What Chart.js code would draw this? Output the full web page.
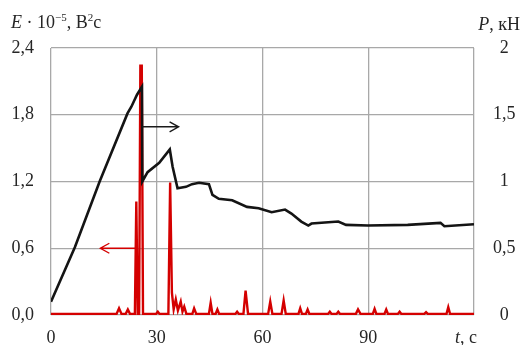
<!DOCTYPE html>
<html>
<head>
<meta charset="utf-8">
<script src="https://cdn.jsdelivr.net/npm/chart.js@4.4.1/dist/chart.umd.min.js"></script>
<style>
  html, body { margin: 0; padding: 0; background: #fff; }
</style>
</head>
<body>
<canvas id="chart" width="522" height="345"></canvas>
<script>
// ====================================== DATA ====================================== //

// load P, kN (right axis)
const tLoad = [0, 6.8, 13.8, 21.7, 22.8, 24.4, 25.8, 25.9, 27.4, 30.7,
               33.7, 34.5, 35.9, 38.3, 40.0, 42.0, 44.8, 45.8, 47.6, 51.4,
               55.6, 58.9, 62.6, 66.4, 68.2, 71.0, 73.0, 73.9, 81.5, 83.7,
               89.9, 101.2, 110.5, 111.6, 120];
const pLoad = [0.10, 0.51, 1.00, 1.51, 1.56, 1.65, 1.71, 1.00, 1.07, 1.14,
               1.24, 1.11, 0.95, 0.96, 0.98, 0.99, 0.98, 0.90, 0.87, 0.86,
               0.81, 0.80, 0.77, 0.79, 0.76, 0.70, 0.67, 0.685, 0.70, 0.675,
               0.67, 0.675, 0.69, 0.665, 0.68];

// energy E * 10^-5, V^2 s (left axis)
const tEnergy = [0, 18.6, 19.3, 20.0, 21.2, 21.8, 22.4, 23.8, 24.2, 24.6,
                 25.0, 25.35, 25.75, 26.1, 29.8, 30.3, 30.8, 33.3, 33.8,
                 34.3, 34.8, 35.4, 36.0, 36.8, 37.3, 37.8, 38.4, 40.1, 40.6,
                 41.2, 44.8, 45.3, 45.8, 46.7, 47.2, 47.7, 52.3, 52.8, 53.3,
                 54.6, 55.2, 55.9, 61.6, 62.2, 62.8, 65.4, 66.0, 66.6, 70.2,
                 70.7, 71.2, 72.3, 72.8, 73.3, 78.6, 79.1, 79.6, 81.0, 81.5,
                 82.0, 86.5, 87.1, 87.8, 91.3, 91.8, 92.3, 94.6, 95.1, 95.6,
                 98.4, 98.9, 99.4, 105.9, 106.4, 106.9, 112.2, 112.7, 113.2, 120];
const eEnergy = [0.01, 0.01, 0.06, 0.01, 0.01, 0.05, 0.01, 0.01, 1.02, 0.01,
                 0.01, 2.24, 2.24, 0.01, 0.01, 0.03, 0.01, 0.01, 1.19,
                 0.20, 0.05, 0.14, 0.04, 0.12, 0.03, 0.075, 0.01, 0.01, 0.06,
                 0.01, 0.01, 0.11, 0.01, 0.01, 0.05, 0.01, 0.01, 0.03, 0.01,
                 0.01, 0.22, 0.01, 0.01, 0.12, 0.01, 0.01, 0.13, 0.01, 0.01,
                 0.06, 0.01, 0.01, 0.05, 0.01, 0.01, 0.03, 0.01, 0.01, 0.03,
                 0.01, 0.01, 0.05, 0.01, 0.01, 0.055, 0.01, 0.01, 0.05, 0.01,
                 0.01, 0.03, 0.01, 0.01, 0.025, 0.01, 0.01, 0.07, 0.01, 0.01];

const tTicks = [0, 30, 60, 90, 120];
const eTicks = [0, 0.6, 1.2, 1.8, 2.4];
const pTicks = [0, 0.5, 1, 1.5, 2];

// arrows pointing at the axis each curve belongs to (data units)
const arrows = [
  {axis: 'yP', y: 1.41, from: 25.9, to: 36.2, color: '#1a1a1a'},
  {axis: 'yE', y: 0.60, from: 24.2, to: 14.0, color: '#d40000'}
];

// ====================================== STYLE ====================================== //

const FONT = "'Liberation Serif', 'Times New Roman', serif";
const gridCol = '#a8a8a8', txtCol = '#262626', red = '#d40000', black = '#141414';

const comma = v => String(v).replace('.', ',');

// axis titles with italic letters and superscripts
const titles = [
  {x: 11, y: 28, align: 'left',  parts: [['E', 'i'], [' · 10'], ['−5', 's'], [', В'], ['2', 's'], ['с']]},
  {x: 520, y: 30, align: 'right', parts: [['P', 'i'], [', кН']]},
  {x: 455, y: 343, align: 'left', parts: [['t', 'i'], [', с']]}
];

function partFont(p) {
  if (p[1] === 'i') return 'italic 18px ' + FONT;
  if (p[1] === 's') return '11px ' + FONT;
  return '18px ' + FONT;
}

const decor = {
  id: 'decor',
  afterDatasetsDraw(chart) {
    const ctx = chart.ctx, xs = chart.scales.x;
    ctx.save();
    // arrows
    arrows.forEach(a => {
      const ys = chart.scales[a.axis];
      const x0 = xs.getPixelForValue(a.from), x1 = xs.getPixelForValue(a.to), y = ys.getPixelForValue(a.y);
      const dir = Math.sign(x1 - x0);
      ctx.strokeStyle = a.color;
      ctx.lineWidth = 1.4;
      ctx.beginPath();
      ctx.moveTo(x0, y); ctx.lineTo(x1, y);
      ctx.moveTo(x1 - dir * 9, y - 5); ctx.lineTo(x1, y); ctx.lineTo(x1 - dir * 9, y + 5);
      ctx.stroke();
    });
    // titles
    ctx.fillStyle = txtCol;
    ctx.textBaseline = 'alphabetic';
    ctx.textAlign = 'left';
    titles.forEach(t => {
      let w = 0;
      t.parts.forEach(p => { ctx.font = partFont(p); w += ctx.measureText(p[0]).width; });
      let x = t.align === 'right' ? t.x - w : t.x;
      t.parts.forEach(p => {
        ctx.font = partFont(p);
        ctx.fillText(p[0], x, p[1] === 's' ? t.y - 7 : t.y);
        x += ctx.measureText(p[0]).width;
      });
    });
    ctx.restore();
  }
};

// ====================================== CHART ====================================== //

new Chart(document.getElementById('chart'), {
  type: 'line',
  data: {
    datasets: [
      {
        data: tLoad.map((t, i) => ({x: t, y: pLoad[i]})),
        yAxisID: 'yP', borderColor: black, borderWidth: 2.6, pointRadius: 0, tension: 0
      },
      {
        data: tEnergy.map((t, i) => ({x: t, y: eEnergy[i]})),
        yAxisID: 'yE', borderColor: red, borderWidth: 2.4, pointRadius: 0, tension: 0
      }
    ]
  },
  options: {
    responsive: false,
    animation: false,
    devicePixelRatio: 1,
    layout: {padding: {top: 48, right: 0, bottom: 0, left: 0}},
    plugins: {legend: {display: false}, tooltip: {enabled: false}},
    scales: {
      x: {
        type: 'linear', min: 0, max: 120,
        afterBuildTicks: s => { s.ticks = tTicks.map(v => ({value: v})); },
        afterFit: s => { s.height = 30; },
        grid: {color: gridCol, lineWidth: 1.3, drawTicks: false},
        border: {display: false},
        ticks: {
          padding: 12, color: txtCol, font: {family: FONT, size: 18},
          callback: v => v === 120 ? '' : v
        }
      },
      yE: {
        position: 'left', min: 0, max: 2.4,
        afterBuildTicks: s => { s.ticks = eTicks.map(v => ({value: v})); },
        afterFit: s => { s.width = 51; },
        grid: {color: gridCol, lineWidth: 1.3, drawTicks: false},
        border: {display: false},
        ticks: {
          padding: 17, color: txtCol, font: {family: FONT, size: 18},
          callback: v => v.toFixed(1).replace('.', ',')
        }
      },
      yP: {
        position: 'right', min: 0, max: 2,
        afterBuildTicks: s => { s.ticks = pTicks.map(v => ({value: v})); },
        afterFit: s => { s.width = 48; },
        grid: {display: false, drawTicks: false},
        border: {display: false},
        ticks: {
          padding: 19, crossAlign: 'center', color: txtCol, font: {family: FONT, size: 18},
          callback: v => comma(v)
        }
      }
    }
  },
  plugins: [decor]
});
</script>
</body>
</html>
